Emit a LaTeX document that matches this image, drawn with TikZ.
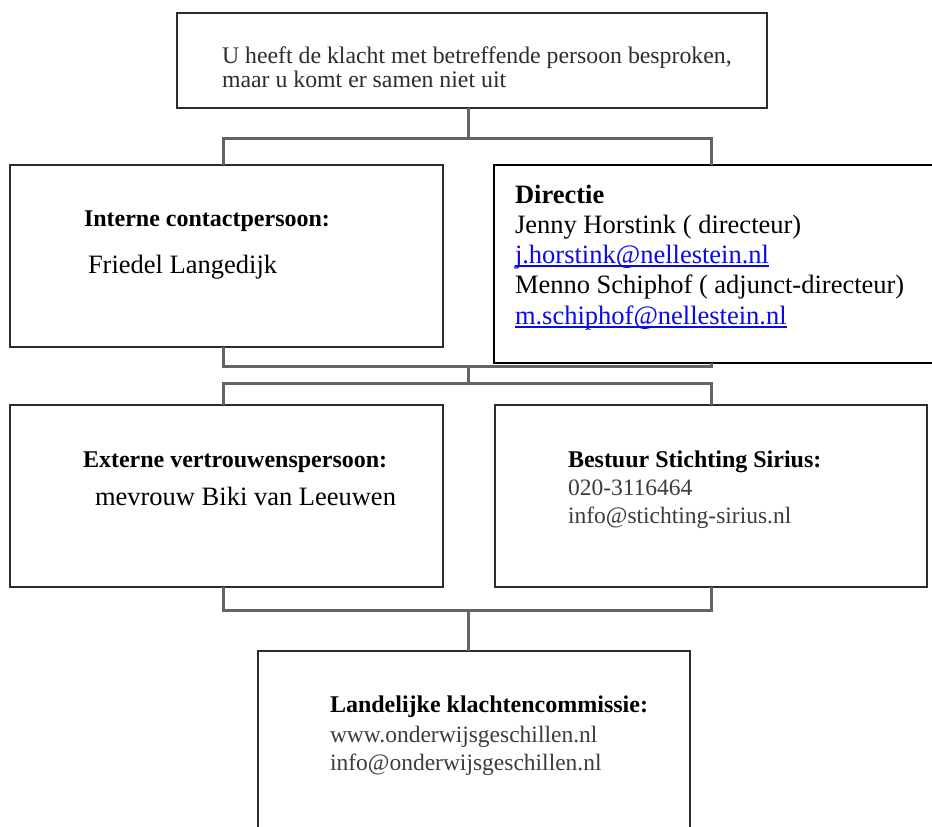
\documentclass[tikz,border=0pt]{standalone}
\usepackage{fontspec}
\setmainfont{Liberation Serif}
\definecolor{linkblue}{RGB}{10,10,235}
\definecolor{softtext}{RGB}{45,45,45}
\definecolor{greytext}{RGB}{60,60,60}
\definecolor{connline}{RGB}{100,100,100}
\definecolor{boxline}{RGB}{45,45,45}
\begin{document}
\begin{tikzpicture}[x=1pt,y=-1pt,
  boxst/.style={draw=boxline, line width=1.8pt, rectangle, inner sep=0pt, outer sep=0pt, anchor=north west},
  conn/.style={draw=connline, line width=3pt, line join=miter},
  txtst/.style={anchor=base west, inner sep=0pt, outer sep=0pt},
  toptxt/.style={txtst, text=softtext, font=\fontsize{23.8}{25}\selectfont},
  headtxt/.style={txtst, font=\bfseries\fontsize{24}{28}\selectfont},
  persontxt/.style={txtst, font=\fontsize{26.5}{30}\selectfont},
  subtxt/.style={txtst, text=greytext, font=\fontsize{23.5}{28}\selectfont},
  linktxt/.style={txtst, text=linkblue, font=\fontsize{26.5}{30}\selectfont},
  uline/.style={draw=linkblue, line width=1.2pt}]
\useasboundingbox (0,0) rectangle (932,827);
\clip (0,0) rectangle (932,827);
\fill[white] (0,0) rectangle (932,827);

% boxes
\node[boxst, minimum width=590pt, minimum height=95pt] (top) at (177,13) {};
\node[boxst, minimum width=433pt, minimum height=182pt] (int) at (10,165) {};
\node[boxst, draw=black, line width=2pt, minimum width=445pt, minimum height=198pt] (dir) at (494,165) {};
\node[boxst, minimum width=433pt, minimum height=182pt] (ext) at (10,405) {};
\node[boxst, minimum width=432pt, minimum height=182pt] (bes) at (495,405) {};
\node[boxst, minimum width=432pt, minimum height=200pt] (land) at (258,651) {};

% column positions and bus junctions
\coordinate (L) at (223,0);
\coordinate (R) at (711,0);
\coordinate (c1) at (468,138);
\coordinate (c2) at (468,366);
\coordinate (c3) at (468,383);
\coordinate (c4) at (468,610);

% connectors
\draw[conn] (top.south -| c1) -- (c1);
\draw[conn] (int.north -| L) |- (c1) -| (dir.north -| R);
\draw[conn] (int.south -| L) |- (c2) -| (dir.south -| R);
\draw[conn] (c2) -- (c3);
\draw[conn] (ext.north -| L) |- (c3) -| (bes.north -| R);
\draw[conn] (ext.south -| L) |- (c4) -| (bes.south -| R);
\draw[conn] (c4) -- (land.north -| c4);

% top box text
\node[toptxt] (t1) at (222,63) {U heeft de klacht met betreffende persoon besproken,};
\node[toptxt] (t2) at (222,87) {maar u komt er samen niet uit};

% interne contactpersoon
\node[headtxt] (i1) at (84,226) {Interne contactpersoon:};
\node[persontxt] (i2) at (88,273) {Friedel Langedijk};

% directie
\node[txtst, font=\bfseries\fontsize{26.5}{30}\selectfont] (d1) at (515,203) {Directie};
\node[persontxt] (d2) at (515,233) {Jenny Horstink ( directeur)};
\node[linktxt] (d3) at (515,263) {j.horstink@nellestein.nl};
\node[persontxt] (d4) at (515,293) {Menno Schiphof ( adjunct-directeur)};
\node[linktxt] (d5) at (515,324) {m.schiphof@nellestein.nl};
\draw[uline] ([yshift=-3pt]d3.base west) -- ([yshift=-3pt]d3.base east);
\draw[uline] ([yshift=-3pt]d5.base west) -- ([yshift=-3pt]d5.base east);

% externe vertrouwenspersoon
\node[headtxt] (e1) at (83,467) {Externe vertrouwenspersoon:};
\node[persontxt] (e2) at (95,505) {mevrouw Biki van Leeuwen};

% bestuur
\node[headtxt] (b1) at (568,467) {Bestuur Stichting Sirius:};
\node[subtxt] (b2) at (568,495) {020-3116464};
\node[subtxt] (b3) at (568,523) {info@stichting-sirius.nl};

% landelijke klachtencommissie
\node[headtxt] (l1) at (330,712) {Landelijke klachtencommissie:};
\node[subtxt] (l2) at (330,742) {www.onderwijsgeschillen.nl};
\node[subtxt] (l3) at (330,770) {info@onderwijsgeschillen.nl};
\end{tikzpicture}
\end{document}
